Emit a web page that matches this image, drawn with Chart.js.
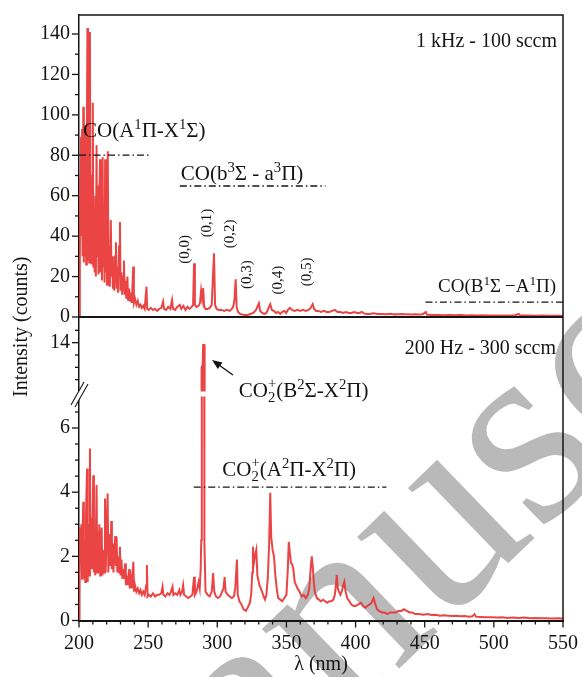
<!DOCTYPE html>
<html><head><meta charset="utf-8">
<script src="https://cdn.jsdelivr.net/npm/chart.js@4"></script>
<style>html,body{margin:0;padding:0;background:#fff}#wrap{position:relative;width:582px;height:677px}</style>
</head><body><div id="wrap"><canvas id="c" width="582" height="677"></canvas></div>
<script>
// ---------- DATA ----------
const wavelengthTop = [200.0,200.6,201.0,201.4,201.8,202.2,202.6,203.1,203.5,203.9,204.3,204.8,205.2,205.7,206.1,206.5,207.0,207.4,207.9,208.3,208.8,209.2,209.6,210.0,210.4,210.8,211.3,211.8,212.2,212.7,213.1,213.6,214.1,214.6,215.2,215.6,216.1,216.6,217.1,217.5,218.0,218.5,218.9,219.4,219.9,220.3,220.8,221.3,221.8,222.3,223.0,223.5,224.0,224.5,225.0,225.5,226.1,226.7,227.2,227.8,228.3,229.0,229.6,230.1,230.7,231.2,232.0,232.5,233.0,233.6,234.2,235.0,235.5,236.2,237.0,237.6,238.2,239.2,239.7,240.5,241.5,242.5,243.5,244.5,245.5,246.5,247.5,248.8,249.3,250.5,252,253.5,255,256.5,258,259.5,260.8,261.5,263,264.5,266,267.3,268,269.5,271,272.9,274,275.5,277,278.5,280,281.5,282.5,283.2,283.8,285,286.5,287.5,288.3,289.0,289.8,290.5,291.5,293,294.5,296,297.6,298.4,299.5,301,303,305,307,309,310.5,311.5,312.5,313.3,314,315,316.5,318,320,322,324,326,328,330.1,331,332.5,334,335.5,336.5,338.3,339.5,341,342.5,344,345.5,347,348.5,349.8,351,352.5,354,356,358,360,362,364,366,367.5,369,370,371.5,373,375,377,379,381,383,385,387,389,391,393,395,397,399,401,403,404.5,406,408,410,413,416,419,422,425,428,431,434,437,440,443,446,448.5,450.8,451.5,454,457,460,464,468,472,476,480,484,488,492,496,500,504,508,512,515,518,519,522,526,530,535,540,545,550];
const countsTop = [0,30,70,89,40,93,30,104,27,95,30,60,26,90,143,28,75,27,141,30,55,26,70,106,25,45,22,60,20,85,30,65,21,50,78,22,55,18,79,25,40,17,78,22,50,16,82,20,35,15,48,20,30,14,25,13,30,37,14,25,12,35,47,13,22,11,20,28,11,18,9,20,8,14,8,12,7,25,7,9,6,8,5,6,4.5,5.5,4,15,4,3.5,4.5,3.5,4,3,4,4.5,7.6,4,3.5,5,4,8.4,4,3.5,5,6,4,5.5,3.5,5,4,5,6,26.6,6,5,5.5,7,13,9,14.3,5,4,4,4.5,6,31.5,6,4,3.5,3.5,3,3.5,3,4,5,9,18.7,5,2.5,1.5,1.2,1,1,1.5,2,3.5,6.8,3,2,1.5,2,3.5,6.3,3.5,3,2,2.5,1.5,2.5,3,2,3.5,4.5,3.5,3,3.5,3,3.5,3,3.5,4.5,6.4,4,3,3,2.5,3,2.5,2.5,3,3.5,2.5,2.5,2,2.5,2,2,2.5,2,2,2.5,1.8,1.5,1.5,1.8,1.5,1.5,1.4,1.6,1.3,1.4,1.5,1.3,1.2,1.3,1.2,1.4,2.5,1.2,1,1,1,0.9,1,0.9,1,0.8,0.9,0.8,0.9,0.7,0.8,0.8,0.7,0.8,0.9,1.5,0.8,0.7,0.7,0.6,0.7,0.6,0.6,0.6];

const wavelengthBottom = [200.0,200.4,200.8,201.2,201.7,202.2,202.6,203.1,203.5,204.0,204.5,205.0,205.8,206.3,206.8,207.3,207.9,208.4,208.9,209.4,210.3,210.8,211.3,211.8,212.7,213.2,213.7,214.2,214.7,215.3,215.8,216.4,216.9,217.6,218.2,218.8,219.3,219.8,220.7,221.2,221.7,222.3,222.8,223.3,223.8,224.4,224.9,225.6,226.2,226.7,227.2,227.7,228.4,229.0,229.6,230.1,230.7,231.3,232.0,232.6,233.4,233.9,234.6,235.2,236.3,236.8,237.5,238.2,239.3,239.8,240.5,241.5,242.5,243.5,244.5,245.5,246.5,247.5,248.6,249.1,249.6,250.5,252,253.5,255,256.5,258,259.5,260.4,261,262.5,264,265.5,266.5,267.6,268.2,269.5,271,272.5,273.3,274.5,275.3,276,277.5,279,280.5,282,283.2,283.8,285,286.5,287.3,288.0,288.4,288.8,289.6,289.9,290.4,290.7,291.5,293,294.5,296,297,297.8,299,300.5,302,303.5,304.5,305.3,306,307.5,309,310.5,312,313,314.2,314.8,316,317.5,319,320.7,322,323.5,324.5,325.3,325.8,326.5,327.2,328.2,329,330.5,332,333.5,334.5,335.5,336.5,337.5,338.3,339,340,341,342,343,344,345.5,347,348.5,350,351,351.7,352.5,353.3,354.2,355,356,357,358,359.5,361,362.5,364,365.5,366.5,367.5,368.3,369,369.8,370.5,372,373.5,375,376.5,378,379.5,381,382.5,384,385,385.8,386.4,387.2,388,389,390,391,391.9,392.8,394,395.5,397,398.5,400,402,404,405.5,407,408.5,410,411.5,413,414,415.5,417,419,421,423,425,427,429,431,433,435,437,439,441,443,446,449,452,455,458,461,464,467,470,473,476,479,482,484.5,486,487,490,494,498,502,506,510,514,518,522,526,530,534,538,542,546,550];
const countsBottom = [0,0.8,2.9,1.8,3.0,1.3,2.8,3.7,1.3,2.5,1.2,3.2,4.74,1.2,3.0,1.4,5.36,1.6,3.2,1.6,4.53,1.5,2.6,1.4,4.22,1.5,2.8,1.5,3.0,1.4,2.4,2.9,1.4,2.2,1.5,3.8,1.5,2.5,3.96,1.5,2.2,2.7,1.7,3.1,1.6,2.4,1.5,2.2,2.63,1.7,2.6,1.5,2.0,1.5,2.3,1.4,1.9,1.3,1.6,1.3,1.78,1.1,1.4,1.1,1.6,1.0,1.3,1.0,1.83,0.9,1.1,0.9,1.0,0.85,0.95,0.8,0.9,0.8,1.1,1.73,0.75,0.8,0.75,0.85,0.75,0.8,0.8,0.85,1.05,0.8,0.75,0.85,0.8,0.9,1.05,0.8,0.85,0.8,0.95,0.8,0.9,1.1,0.8,0.75,0.7,0.75,0.8,1.36,0.8,0.9,1.2,1.0,1.6,2.5,13.0,13.1,13.9,13.9,2.4,0.9,0.8,0.75,0.9,1.48,0.9,0.75,0.7,0.75,0.9,1.0,1.35,0.9,0.8,0.75,0.7,0.75,1.0,1.9,0.8,0.6,0.5,0.35,0.3,0.4,0.55,0.8,1.5,2.3,1.8,2.0,2.2,1.4,1.1,0.95,0.75,0.65,0.8,1.3,2.4,3.98,2.6,2.2,2.0,1.4,1.0,0.7,0.65,0.6,0.7,0.8,1.6,2.45,2.1,1.8,1.75,1.6,1.2,1.1,1.0,0.9,0.75,0.8,0.7,0.8,1.0,1.6,2.0,1.7,1.2,0.9,0.7,0.65,0.6,0.65,0.6,0.55,0.6,0.6,0.65,0.8,1.1,1.42,1.0,0.9,0.8,0.9,1.1,1.21,0.9,0.7,0.6,0.5,0.45,0.45,0.5,0.55,0.45,0.4,0.45,0.5,0.55,0.7,0.55,0.35,0.3,0.25,0.25,0.2,0.25,0.25,0.25,0.3,0.3,0.35,0.3,0.25,0.25,0.2,0.2,0.18,0.2,0.17,0.18,0.15,0.16,0.15,0.14,0.15,0.13,0.14,0.12,0.13,0.2,0.12,0.11,0.1,0.1,0.09,0.1,0.08,0.09,0.08,0.09,0.07,0.08,0.07,0.07,0.06,0.07,0.06];

const xTickValues = [200,250,300,350,400,450,500,550];
const topTickValues = [0,20,40,60,80,100,120,140];
const highTickValues = [14];
const lowTickValues = [0,2,4,6];

// ---------- STYLE ----------
const SERIF = '"Liberation Serif", "Times New Roman", serif';
const INK = '#151515';
const RED = 'rgba(232,52,52,0.92)';
const f = (s) => s + 'px ' + SERIF;

function rich(ctx, x, y, parts, size, align) {
  const small = size * 0.7;
  const widths = [];
  let w = 0;
  for (const [t, k] of parts) {
    let ww;
    if (k === 'n') { ctx.font = f(size); ww = ctx.measureText(t).width; }
    else if (k === 'ss') { ctx.font = f(small); ww = Math.max(ctx.measureText(t[0]).width, ctx.measureText(t[1]).width); }
    else { ctx.font = f(small); ww = ctx.measureText(t).width; }
    widths.push(ww); w += ww;
  }
  let cx = align === 'right' ? x - w : align === 'center' ? x - w / 2 : x;
  ctx.textAlign = 'left'; ctx.textBaseline = 'alphabetic';
  parts.forEach(([t, k], i) => {
    if (k === 'n') { ctx.font = f(size); ctx.fillText(t, cx, y); }
    else if (k === 'sup') { ctx.font = f(small); ctx.fillText(t, cx, y - size * 0.38); }
    else if (k === 'sub') { ctx.font = f(small); ctx.fillText(t, cx, y + size * 0.22); }
    else if (k === 'ss') { ctx.font = f(small); ctx.fillText(t[0], cx, y + size * 0.25); ctx.fillText(t[1], cx, y - size * 0.42); }
    cx += widths[i];
  });
}

const decor = {
  id: 'decor',
  beforeDraw(chart) {
    // watermark
    const ctx = chart.ctx;
    ctx.save();
    const S = 270;
    ctx.font = f(S);
    ctx.fillStyle = '#b9b9b9';
    const th = 44 * Math.PI / 180;
    const ux = ctx.measureText('Man').width + ctx.measureText('u').width / 2;
    const uy = -0.225 * S;
    const cx = 447, cy = 538;
    const ox = cx - (ux * Math.cos(th) + uy * Math.sin(th));
    const oy = cy - (-ux * Math.sin(th) + uy * Math.cos(th));
    ctx.translate(ox, oy); ctx.rotate(-th);
    ctx.textAlign = 'left'; ctx.textBaseline = 'alphabetic';
    ctx.fillText('Manuscript', 0, 0);
    ctx.restore();
  },
  beforeDatasetDraw(chart, args) {
    const meta = args.meta, ys = meta.yScale, xs = meta.xScale, ctx = chart.ctx;
    ctx.save();
    ctx.beginPath();
    let top = ys.top, bottom = ys.bottom;
    if (ys.id === 'yHigh') bottom -= 2.5;
    if (ys.id === 'yLow') top += 2.5;
    ctx.rect(xs.left, top, xs.right - xs.left, bottom - top);
    ctx.clip();
  },
  afterDatasetDraw(chart) { chart.ctx.restore(); },
  afterDraw(chart) {
    const ctx = chart.ctx, a = chart.chartArea, S = chart.scales;
    const X = (v) => S.x.getPixelForValue(v);
    const Y = (id, v) => S[id].getPixelForValue(v);
    ctx.save();
    ctx.strokeStyle = INK; ctx.fillStyle = INK;
    // frame
    ctx.lineWidth = 1.5;
    ctx.beginPath(); ctx.moveTo(a.left, a.top); ctx.lineTo(a.right, a.top); ctx.lineTo(a.right, a.bottom); ctx.stroke();
    ctx.lineWidth = 2;
    ctx.beginPath(); ctx.moveTo(a.left, S.yTop.bottom); ctx.lineTo(a.right, S.yTop.bottom); ctx.stroke();
    // y ticks
    ctx.lineWidth = 1.3;
    const yT = (id, v, len) => { const p = Y(id, v); ctx.beginPath(); ctx.moveTo(a.left - len, p); ctx.lineTo(a.left, p); ctx.stroke(); };
    for (let v = 0; v <= 140; v += 10) yT('yTop', v, v % 20 === 0 ? 7 : 4);
    for (const v of [12.5, 13, 13.5, 14, 14.5]) yT('yHigh', v, v === 14 ? 7 : 4);
    for (let v = 0; v <= 6.5; v += 0.5) yT('yLow', v, v % 2 === 0 ? 7 : 4);
    // x ticks
    for (let v = 200; v <= 550; v += 10) {
      const p = X(v), len = v % 50 === 0 ? 7 : 4;
      ctx.beginPath(); ctx.moveTo(p, a.bottom); ctx.lineTo(p, a.bottom + len); ctx.stroke();
    }
    // axis break
    const by = S.yLow.top;
    ctx.fillStyle = '#fff';
    ctx.beginPath();
    ctx.moveTo(a.left - 8, by + 11); ctx.lineTo(a.left + 5, by - 12);
    ctx.lineTo(a.left + 9, by - 10); ctx.lineTo(a.left - 4, by + 13); ctx.closePath(); ctx.fill();
    ctx.lineWidth = 1.1;
    ctx.beginPath(); ctx.moveTo(a.left - 8, by + 11); ctx.lineTo(a.left + 5, by - 12); ctx.stroke();
    ctx.beginPath(); ctx.moveTo(a.left - 4, by + 13); ctx.lineTo(a.left + 9, by - 10); ctx.stroke();
    ctx.fillStyle = INK;
    // dash-dot lines
    ctx.lineWidth = 1.3; ctx.setLineDash([7, 3, 1.5, 3]);
    const dd = (id, v, l0, l1) => { const p = Y(id, v); ctx.beginPath(); ctx.moveTo(X(l0), p); ctx.lineTo(X(l1), p); ctx.stroke(); };
    dd('yTop', 80.1, 200, 251.2);
    dd('yTop', 64.8, 272.9, 378.2);
    dd('yTop', 7.4, 450.5, 550);
    dd('yLow', 4.16, 283, 422.3);
    ctx.setLineDash([]);
    // labels
    rich(ctx, X(545.7), Y('yTop', 133.4), [['1 kHz - 100 sccm', 'n']], 20, 'right');
    rich(ctx, X(544.9), Y('yHigh', 13.54), [['200 Hz - 300 sccm', 'n']], 20, 'right');
    rich(ctx, X(202.9), Y('yTop', 89.0), [['CO(A', 'n'], ['1', 'sup'], ['Π-X', 'n'], ['1', 'sup'], ['Σ)', 'n']], 21, 'left');
    rich(ctx, X(273.6), Y('yTop', 67.8), [['CO(b', 'n'], ['3', 'sup'], ['Σ - a', 'n'], ['3', 'sup'], ['Π)', 'n']], 21, 'left');
    rich(ctx, X(545), Y('yTop', 12.2), [['CO(B', 'n'], ['1', 'sup'], ['Σ\u2009\u2212A', 'n'], ['1', 'sup'], ['Π)', 'n']], 19, 'right');
    rich(ctx, X(315.5), Y('yLow', 6.97), [['CO', 'n'], [['2', '+'], 'ss'], ['(B', 'n'], ['2', 'sup'], ['Σ-X', 'n'], ['2', 'sup'], ['Π)', 'n']], 21, 'left');
    rich(ctx, X(303.6), Y('yLow', 4.50), [['CO', 'n'], [['2', '+'], 'ss'], ['(A', 'n'], ['2', 'sup'], ['Π-X', 'n'], ['2', 'sup'], ['Π)', 'n']], 21, 'left');
    // vibrational labels
    const vib = [['(0,0)', 276.8, 33.4], ['(0,1)', 292.7, 46.5], ['(0,2)', 309.3, 41.1], ['(0,3)', 321.6, 21.0], ['(0,4)', 344.0, 18.3], ['(0,5)', 364.9, 22.3]];
    ctx.font = f(15); ctx.textAlign = 'center'; ctx.textBaseline = 'middle';
    for (const [t, l, v] of vib) {
      ctx.save(); ctx.translate(X(l), Y('yTop', v)); ctx.rotate(-Math.PI / 2); ctx.fillText(t, 0, 0); ctx.restore();
    }
    // arrow
    const hx = X(296.2), hy = Y('yHigh', 13.3), tx = X(311.3), ty = Y('yHigh', 12.69);
    const ang = Math.atan2(hy - ty, hx - tx);
    ctx.lineWidth = 1.4;
    ctx.beginPath(); ctx.moveTo(tx, ty); ctx.lineTo(hx - 6 * Math.cos(ang), hy - 6 * Math.sin(ang)); ctx.stroke();
    ctx.beginPath();
    ctx.moveTo(hx, hy);
    ctx.lineTo(hx - 10 * Math.cos(ang) + 4 * Math.sin(ang), hy - 10 * Math.sin(ang) - 4 * Math.cos(ang));
    ctx.lineTo(hx - 10 * Math.cos(ang) - 4 * Math.sin(ang), hy - 10 * Math.sin(ang) + 4 * Math.cos(ang));
    ctx.closePath(); ctx.fill();
    // y title
    ctx.save(); ctx.translate(22, (a.top + a.bottom) / 2 + 9); ctx.rotate(-Math.PI / 2);
    ctx.font = f(20); ctx.textAlign = 'center'; ctx.textBaseline = 'middle';
    ctx.fillText('Intensity (counts)', 0, 0); ctx.restore();
    ctx.restore();
  }
};

const tickFont = { family: SERIF, size: 20 };
const hideGrid = { drawOnChartArea: false, drawTicks: true, tickLength: 7, color: 'rgba(0,0,0,0)', tickColor: 'rgba(0,0,0,0)' };
function yAxis(min, max, weight, values) {
  return {
    type: 'linear', position: 'left', stack: 'y', stackWeight: weight, min: min, max: max,
    afterBuildTicks: (s) => { s.ticks = values.map(v => ({ value: v })); },
    afterFit: (s) => { s.width = 60; },
    ticks: { font: tickFont, color: INK, padding: 2, autoSkip: false, callback: (v) => String(v) },
    grid: hideGrid,
    border: { display: true, color: INK, width: 1.5 }
  };
}

new Chart(document.getElementById('c'), {
  type: 'line',
  data: {
    datasets: [
      { data: wavelengthTop.map((x, i) => ({ x: x, y: countsTop[i] })), yAxisID: 'yTop', borderColor: RED, borderWidth: 2, pointRadius: 0, tension: 0 },
      { data: wavelengthBottom.map((x, i) => ({ x: x, y: countsBottom[i] })), yAxisID: 'yLow', borderColor: RED, borderWidth: 2, pointRadius: 0, tension: 0 },
      { data: wavelengthBottom.map((x, i) => ({ x: x, y: countsBottom[i] })), yAxisID: 'yHigh', borderColor: RED, borderWidth: 2.4, pointRadius: 0, tension: 0 }
    ]
  },
  options: {
    responsive: false, animation: false, devicePixelRatio: 1,
    layout: { padding: { left: 19, right: 18, top: 15, bottom: 0 } },
    plugins: { legend: { display: false }, tooltip: { enabled: false } },
    scales: {
      x: {
        type: 'linear', position: 'bottom', min: 200, max: 550,
        afterBuildTicks: (s) => { s.ticks = xTickValues.map(v => ({ value: v })); },
        afterFit: (s) => { s.height = 56.5; },
        ticks: { font: tickFont, color: INK, padding: 4, autoSkip: false, maxRotation: 0 },
        grid: hideGrid,
        border: { display: true, color: INK, width: 2 },
        title: { display: true, text: 'λ (nm)', font: { family: SERIF, size: 20 }, color: INK, padding: { top: 0, bottom: 0 } }
      },
      yLow: yAxis(0, 7.06, 226.5, lowTickValues),
      yHigh: yAxis(11.92, 15.04, 77, highTickValues),
      yTop: yAxis(0, 149.4, 302, topTickValues)
    }
  },
  plugins: [decor]
});
</script></body></html>
